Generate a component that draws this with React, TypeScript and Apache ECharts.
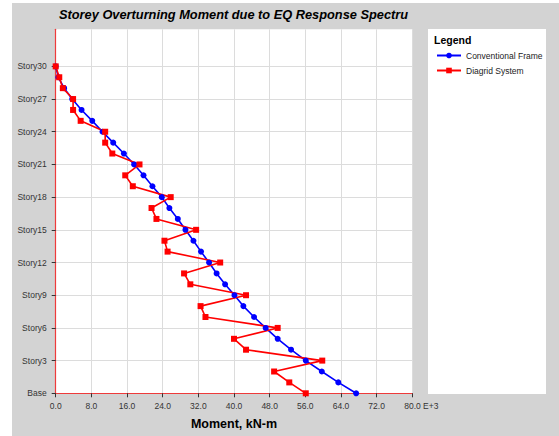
import React, { useEffect, useRef } from "react";
import * as echarts from "echarts";

// Storey levels: index 0 is the base, index 30 is the top storey.
const storyTickValues = [0, 3, 6, 9, 12, 15, 18, 21, 24, 27, 30];
const storyTickLabels = [
  "Base", "Story3", "Story6", "Story9", "Story12", "Story15",
  "Story18", "Story21", "Story24", "Story27", "Story30",
];

// Overturning moment (×10³ kN-m), listed from Base up to Story30.
const conventionalFrame = [
  67.4, 63.4, 59.7, 56.1, 52.8, 49.8, 47.1, 44.5, 42.1, 40.1,
  38.0, 36.1, 34.4, 32.6, 30.9, 29.1, 27.4, 25.5, 23.8, 21.7,
  19.7, 17.6, 15.3, 12.9, 10.5, 8.2, 5.8, 3.7, 1.9, 0.6, 0.0,
];
const diagridSystem = [
  56.1, 52.4, 49.0, 59.8, 42.7, 40.0, 49.8, 33.6, 32.5, 42.7,
  30.2, 28.8, 36.9, 25.1, 24.4, 31.5, 22.6, 21.5, 25.8, 17.3,
  15.6, 18.8, 12.7, 11.1, 11.1, 5.6, 3.9, 3.9, 1.6, 0.8, 0.0,
];

const FONT = "'Liberation Sans', Arial, sans-serif";

const toPoints = (values: number[]) => values.map((v, i) => [v, i]);

export default function App() {
  const ref = useRef<HTMLDivElement>(null);

  useEffect(() => {
    if (!ref.current) return;
    const chart = echarts.init(ref.current, null, { renderer: "svg" });
    chart.setOption({
      animation: false,
      backgroundColor: "transparent",
      title: {
        text: "Storey Overturning Moment due to EQ Response Spectru",
        left: 59,
        top: 8,
        padding: 0,
        textStyle: {
          fontFamily: FONT,
          fontSize: 12.8,
          fontWeight: "bold",
          fontStyle: "italic",
          color: "#000",
        },
      },
      graphic: [
        {
          type: "rect",
          z: -1,
          shape: { x: 428, y: 29, width: 118, height: 365 },
          style: { fill: "#ffffff" },
          silent: true,
        },
        {
          type: "text",
          x: 434,
          y: 39.5,
          style: {
            text: "Legend",
            fontFamily: FONT,
            fontSize: 10.5,
            fontWeight: "bold",
            fill: "#000",
            verticalAlign: "middle",
          },
          silent: true,
        },
      ],
      legend: {
        orient: "vertical",
        left: 436,
        top: 51,
        padding: 0,
        itemWidth: 24,
        itemHeight: 7,
        itemGap: 6,
        textStyle: { fontFamily: FONT, fontSize: 8.5, color: "#222" },
        data: ["Conventional Frame", "Diagrid System"],
      },
      grid: {
        left: 55.7,
        right: 146.7,
        top: 29.3,
        bottom: 42.7,
        show: true,
        backgroundColor: "#ffffff",
        borderWidth: 0,
      },
      xAxis: {
        type: "value",
        min: 0,
        max: 80,
        interval: 8,
        name: "Moment, kN-m",
        nameLocation: "middle",
        nameGap: 24,
        nameTextStyle: {
          fontFamily: FONT,
          fontSize: 12.5,
          fontWeight: "bold",
          color: "#000",
        },
        axisLine: { show: true, lineStyle: { color: "#ee3b3b", width: 1.2 } },
        axisTick: { show: true, length: 4, lineStyle: { color: "#333" } },
        axisLabel: {
          margin: 8,
          fontFamily: FONT,
          fontSize: 8.5,
          color: "#333",
          formatter: (v: number) =>
            v === 80 ? "{pad|}{v|80.0}{e| E+3}" : v.toFixed(1),
          rich: {
            pad: { width: 18 },
            v: { fontFamily: FONT, fontSize: 8.5, color: "#333" },
            e: { fontFamily: FONT, fontSize: 8.5, color: "#333" },
          },
        },
        splitLine: { show: true, lineStyle: { color: "#dcdcdc", width: 1 } },
      },
      yAxis: {
        type: "value",
        min: 0,
        max: 33.4,
        interval: 3,
        axisLine: { show: true, lineStyle: { color: "#ee3b3b", width: 1.2 } },
        axisTick: {
          show: true,
          length: 4,
          lineStyle: { color: "#333" },
          customValues: storyTickValues,
        },
        axisLabel: {
          margin: 9,
          fontFamily: FONT,
          fontSize: 8.5,
          color: "#333",
          customValues: storyTickValues,
          formatter: (v: number) => {
            const i = storyTickValues.indexOf(v);
            return i >= 0 ? storyTickLabels[i] : "";
          },
        },
        splitLine: { show: true, lineStyle: { color: "#dcdcdc", width: 1 } },
      },
      series: [
        {
          name: "Conventional Frame",
          type: "line",
          data: toPoints(conventionalFrame),
          symbol: "circle",
          symbolSize: 6,
          lineStyle: { color: "#0000ff", width: 1.6 },
          itemStyle: { color: "#0000ff" },
        },
        {
          name: "Diagrid System",
          type: "line",
          data: toPoints(diagridSystem),
          symbol: "rect",
          symbolSize: 6,
          lineStyle: { color: "#ff0000", width: 1.6 },
          itemStyle: { color: "#ff0000" },
        },
      ],
    });
    return () => chart.dispose();
  }, []);

  return (
    <div style={{ position: "absolute", left: 0, top: 0, width: 559, height: 436, background: "#ffffff" }}>
      <div style={{ position: "absolute", left: 12, top: 3, width: 547, height: 433, background: "#d3d3d3" }} />
      <div ref={ref} style={{ position: "absolute", left: 0, top: 0, width: 559, height: 436 }} />
    </div>
  );
}
